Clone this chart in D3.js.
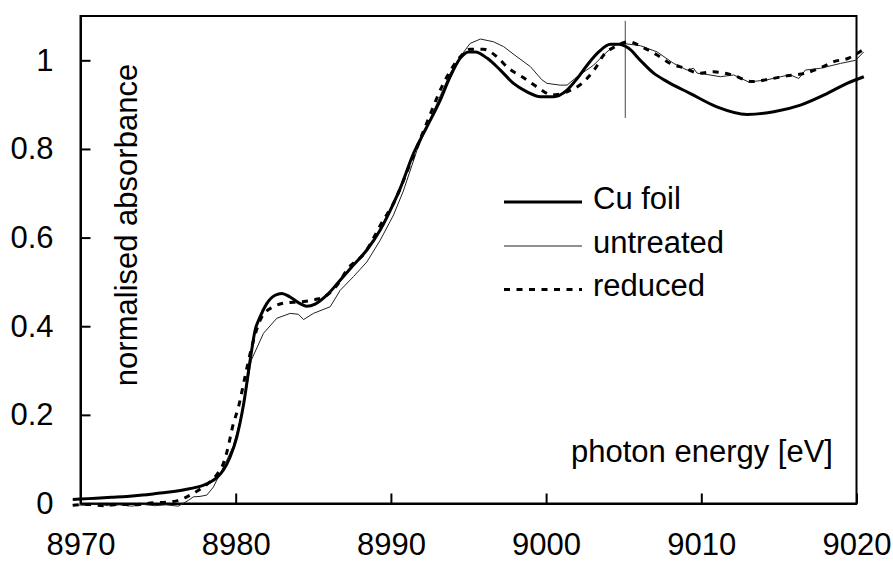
<!DOCTYPE html>
<html>
<head>
<meta charset="utf-8">
<script src="https://cdn.jsdelivr.net/npm/d3@7"></script>
<style>
  html, body { margin: 0; padding: 0; background: #fff; }
  svg { display: block; font-family: Arial, "Liberation Sans", sans-serif; }
</style>
</head>
<body>
<svg id="chart" width="893" height="563"></svg>
<script>
// ---- data ----
const xTicks = [8970, 8980, 8990, 9000, 9010, 9020];
const yTicks = [0, 0.2, 0.4, 0.6, 0.8, 1];
const yTickLabels = ["0", "0.2", "0.4", "0.6", "0.8", "1"];
const seriesNames = ["Cu foil", "untreated", "reduced"];
const xTitle = "photon energy [eV]";
const yTitle = "normalised absorbance";
const markerEnergy = 9005.1;
const markerRange = [0.87, 1.089];

const cuEnergy = [8969.5, 8970, 8971, 8972, 8973, 8974, 8975, 8976, 8976.85, 8977.5, 8977.9, 8978.4, 8978.8, 8979.2, 8979.64, 8980.07, 8980.5, 8980.93, 8981.25, 8981.57, 8982.0, 8982.54, 8982.97, 8983.5, 8984.15, 8984.58, 8985.12, 8985.87, 8986.73, 8987.59, 8988.45, 8989.31, 8990.17, 8990.6, 8991.46, 8992.32, 8993.18, 8993.82, 8994.47, 8995.0, 8995.44, 8996.19, 8997.05, 8997.9, 8998.77, 8999.63, 9000.48, 9001.35, 9002.0, 9002.64, 9003.39, 9004.14, 9004.68, 9005.32, 9006.07, 9006.93, 9007.8, 9009.3, 9011.0, 9012.95, 9014.67, 9016.39, 9018.1, 9019.39, 9020.47];
const cuValue = [0.009, 0.010, 0.012, 0.014, 0.016, 0.019, 0.023, 0.027, 0.032, 0.037, 0.041, 0.049, 0.059, 0.075, 0.105, 0.15, 0.222, 0.323, 0.391, 0.421, 0.451, 0.470, 0.474, 0.466, 0.451, 0.445, 0.450, 0.470, 0.504, 0.538, 0.572, 0.617, 0.677, 0.711, 0.79, 0.85, 0.91, 0.963, 1.005, 1.019, 1.019, 1.005, 0.978, 0.948, 0.929, 0.918, 0.918, 0.933, 0.959, 0.989, 1.019, 1.036, 1.036, 1.027, 1.0, 0.971, 0.952, 0.925, 0.895, 0.878, 0.884, 0.899, 0.925, 0.948, 0.963];

const untreatedEnergy = [8969.5, 8970.3, 8971.0, 8971.8, 8972.5, 8973.3, 8974.0, 8974.8, 8975.5, 8976.3, 8976.95, 8977.27, 8977.7, 8978.14, 8978.56, 8979.0, 8979.43, 8979.85, 8980.3, 8980.7, 8981.0, 8981.79, 8982.65, 8983.51, 8984.04, 8984.37, 8985.01, 8986.09, 8986.73, 8987.59, 8988.45, 8989.31, 8990.17, 8990.8, 8991.68, 8992.97, 8993.82, 8994.47, 8995.1, 8995.77, 8996.6, 8997.26, 8998.12, 8998.98, 8999.73, 9000.06, 9000.9, 9001.35, 9002.0, 9003.06, 9003.82, 9004.46, 9005.0, 9006.07, 9007.15, 9008.22, 9009.08, 9009.5, 9009.73, 9010.37, 9011.23, 9012.09, 9013.06, 9014.24, 9015.1, 9015.74, 9016.28, 9016.71, 9017.68, 9018.97, 9019.94, 9020.47];
const untreatedValue = [-0.003, -0.004, -0.001, -0.005, -0.003, -0.006, -0.002, -0.005, -0.003, -0.006, 0.007, 0.015, 0.016, 0.019, 0.037, 0.068, 0.098, 0.13, 0.19, 0.26, 0.323, 0.384, 0.418, 0.429, 0.427, 0.415, 0.429, 0.444, 0.481, 0.512, 0.545, 0.594, 0.651, 0.705, 0.797, 0.903, 0.971, 1.008, 1.038, 1.048, 1.042, 1.031, 1.008, 0.986, 0.956, 0.948, 0.944, 0.944, 0.963, 0.989, 1.016, 1.035, 1.038, 1.033, 1.019, 0.993, 0.978, 0.982, 0.971, 0.968, 0.963, 0.967, 0.951, 0.956, 0.963, 0.967, 0.959, 0.978, 0.982, 0.993, 1.0, 1.019];

const reducedEnergy = [8969.5, 8970.5, 8971.5, 8972.5, 8973.5, 8974.5, 8975.5, 8976.2, 8976.85, 8977.6, 8978.35, 8978.8, 8979.2, 8979.43, 8979.85, 8980.18, 8980.6, 8981.04, 8981.68, 8982.43, 8983.29, 8984.26, 8985.12, 8985.87, 8986.62, 8987.16, 8988.3, 8989.52, 8990.06, 8991.25, 8992.21, 8993.39, 8994.47, 8995.1, 8995.97, 8996.83, 8997.58, 8998.45, 8999.41, 9000.38, 9001.35, 9002.31, 9003.17, 9003.71, 9004.46, 9005.32, 9006.29, 9007.15, 9008.0, 9008.97, 9009.83, 9010.8, 9011.99, 9013.28, 9014.45, 9015.53, 9016.71, 9017.68, 9018.54, 9019.5, 9020.36];
const reducedValue = [-0.004, -0.002, -0.005, -0.002, -0.003, 0.001, 0.003, 0.006, 0.015, 0.03, 0.049, 0.066, 0.09, 0.116, 0.18, 0.218, 0.286, 0.354, 0.421, 0.444, 0.453, 0.455, 0.46, 0.47, 0.497, 0.527, 0.565, 0.64, 0.67, 0.767, 0.85, 0.948, 1.008, 1.025, 1.025, 1.008, 0.982, 0.963, 0.94, 0.922, 0.929, 0.948, 0.982, 1.012, 1.031, 1.042, 1.028, 1.012, 0.993, 0.982, 0.971, 0.974, 0.967, 0.952, 0.958, 0.965, 0.971, 0.983, 0.997, 1.005, 1.023];

// ---- layout ----
const svg = d3.select("#chart");
const plotLeft = 80.5, plotRight = 856.5, plotTop = 16, plotBottom = 503.5;
const fontSize = 31;

const x = d3.scaleLinear().domain([8970, 9020]).range([plotLeft, plotRight]);
const y = d3.scaleLinear().domain([0, 1.1]).range([plotBottom, plotTop]);

// frame
svg.append("rect")
  .attr("x", plotLeft).attr("y", plotTop)
  .attr("width", plotRight - plotLeft).attr("height", plotBottom - plotTop)
  .attr("fill", "none").attr("stroke", "#000").attr("stroke-width", 2);

// axes
const xAxis = d3.axisBottom(x).tickValues(xTicks).tickFormat(d3.format("d"))
  .tickSizeInner(-10).tickSizeOuter(0).tickPadding(29);
const gx = svg.append("g").attr("transform", `translate(0,${plotBottom})`).call(xAxis);

const yAxis = d3.axisLeft(y).tickValues(yTicks).tickFormat((d, i) => yTickLabels[i])
  .tickSizeInner(-10).tickSizeOuter(0).tickPadding(27);
const gy = svg.append("g").attr("transform", `translate(${plotLeft},0)`).call(yAxis);

[gx, gy].forEach(g => {
  g.select(".domain").attr("stroke", "#000").attr("stroke-width", 2);
  g.selectAll(".tick line").attr("stroke", "#000").attr("stroke-width", 2);
  g.selectAll(".tick text").attr("fill", "#000")
    .style("font-size", fontSize + "px").style("font-family", 'Arial, "Liberation Sans", sans-serif');
});

// axis titles
svg.append("text")
  .attr("x", 833).attr("y", 462)
  .attr("text-anchor", "end")
  .style("font-size", fontSize + "px")
  .text(xTitle);

svg.append("text")
  .attr("transform", "translate(137,225) rotate(-90)")
  .attr("text-anchor", "middle")
  .style("font-size", fontSize + "px")
  .text(yTitle);

// marker line
svg.append("line")
  .attr("x1", x(markerEnergy)).attr("x2", x(markerEnergy))
  .attr("y1", y(markerRange[0])).attr("y2", y(markerRange[1]))
  .attr("stroke", "#444").attr("stroke-width", 1);

// series
const zip = (xs, ys) => xs.map((e, i) => [e, ys[i]]);
const smooth = d3.line().x(d => x(d[0])).y(d => y(d[1])).curve(d3.curveMonotoneX);
const straight = d3.line().x(d => x(d[0])).y(d => y(d[1]));

const styles = [
  { width: 3, dash: null, color: "#000" },
  { width: 1, dash: null, color: "#222" },
  { width: 3, dash: "6,6.5", color: "#000" }
];

svg.append("path").datum(zip(untreatedEnergy, untreatedValue))
  .attr("d", straight).attr("fill", "none")
  .attr("stroke", styles[1].color).attr("stroke-width", styles[1].width);

svg.append("path").datum(zip(reducedEnergy, reducedValue))
  .attr("d", smooth).attr("fill", "none")
  .attr("stroke", styles[2].color).attr("stroke-width", styles[2].width)
  .attr("stroke-dasharray", styles[2].dash);

svg.append("path").datum(zip(cuEnergy, cuValue))
  .attr("d", smooth).attr("fill", "none")
  .attr("stroke", styles[0].color).attr("stroke-width", styles[0].width)
  .attr("stroke-linejoin", "round");

// legend
const legendY = [202, 246, 289.5];
const lg = svg.append("g");
seriesNames.forEach((name, i) => {
  lg.append("line")
    .attr("x1", 504).attr("x2", 582)
    .attr("y1", legendY[i]).attr("y2", legendY[i])
    .attr("stroke", styles[i].color).attr("stroke-width", styles[i].width)
    .attr("stroke-dasharray", styles[i].dash);
  lg.append("text")
    .attr("x", 593).attr("y", legendY[i] + 6.5)
    .style("font-size", fontSize + "px")
    .text(name);
});
</script>
</body>
</html>
